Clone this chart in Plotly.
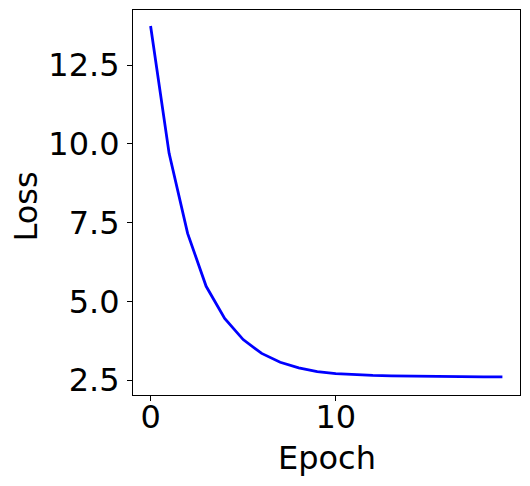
import plotly.graph_objects as go

# Loss per epoch
epochs = list(range(20))
loss = [13.74, 9.70, 7.16, 5.48, 4.46, 3.79, 3.35, 3.07, 2.89, 2.77,
        2.71, 2.67, 2.65, 2.64, 2.63, 2.62, 2.615, 2.61, 2.607, 2.605]

x_ticks = [0, 10]
y_ticks = [2.5, 5.0, 7.5, 10.0, 12.5]

font = dict(family='DejaVu Sans', size=32, color='black')

fig = go.Figure()
fig.add_trace(go.Scatter(
    x=epochs,
    y=loss,
    mode='lines',
    line=dict(color='#0000ff', width=2.8),
    showlegend=False
))

axis_style = dict(
    showline=True,
    linecolor='black',
    linewidth=1.1,
    mirror=True,
    ticks='outside',
    ticklen=5,
    tickwidth=1.1,
    tickcolor='black',
    showgrid=False,
    zeroline=False,
    tickfont=font,
    automargin=False,
)

# the page body adds an 8px offset, so the figure is 8px smaller
fig.update_layout(
    width=522,
    height=478,
    margin=dict(l=125, r=10, t=2, b=91),
    paper_bgcolor='white',
    plot_bgcolor='white',
    font=font,
    xaxis=dict(
        axis_style,
        range=[-0.95, 19.95],
        tickvals=x_ticks,
        ticklabelstandoff=-11,
    ),
    yaxis=dict(
        axis_style,
        range=[2.03, 14.25],
        tickvals=y_ticks,
        tickformat='.1f',
        ticklabelstandoff=1,
    ),
    annotations=[
        dict(text='Epoch', xref='paper', yref='paper', x=0.5, y=0,
             xanchor='center', yanchor='top', yshift=-42,
             showarrow=False, font=font),
        dict(text='Loss', xref='paper', yref='paper', x=-0.2765, y=0.5,
             xanchor='center', yanchor='middle', textangle=-90, yshift=-4,
             showarrow=False, font=font),
    ],
)

fig.write_html("out.html")
